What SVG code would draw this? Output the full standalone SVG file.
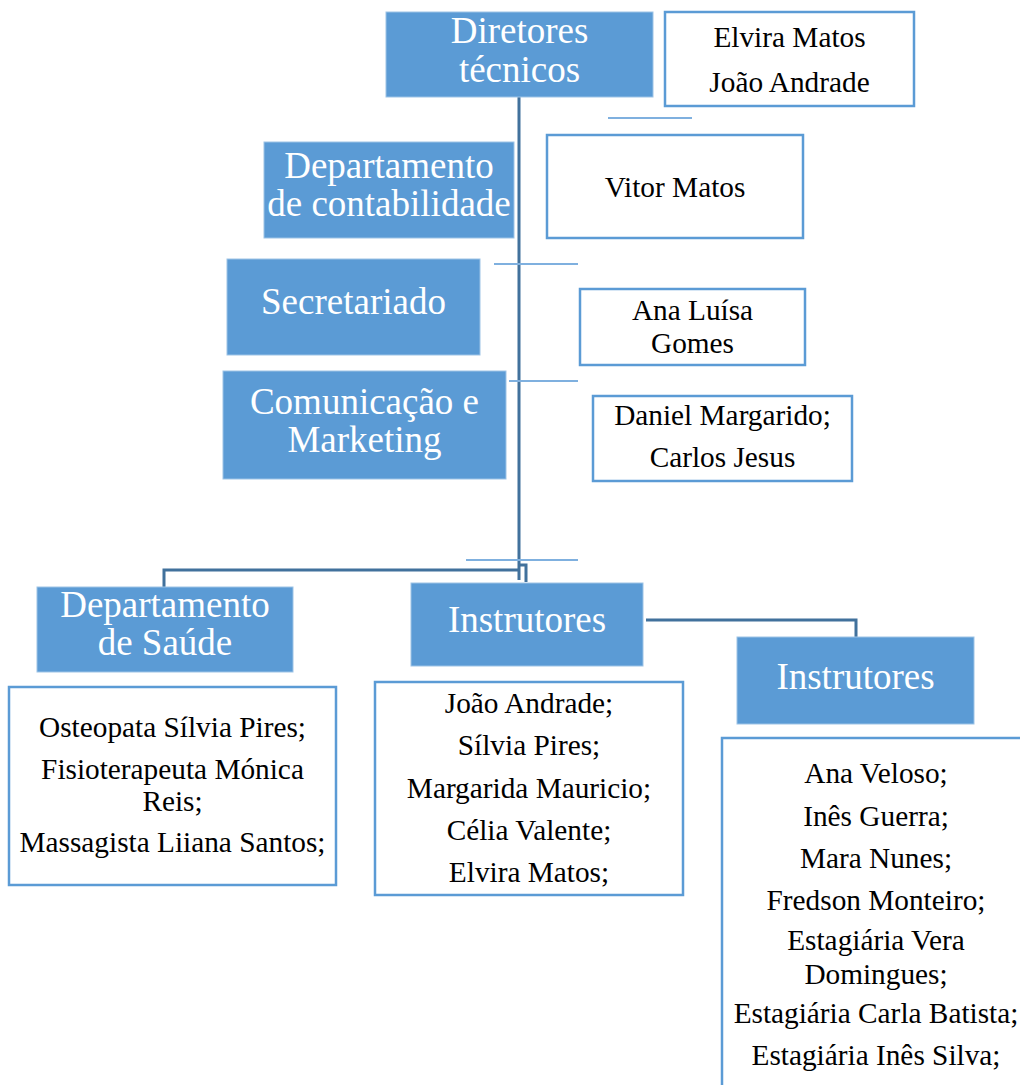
<svg xmlns="http://www.w3.org/2000/svg" width="1020" height="1085" viewBox="0 0 1020 1085">
<style>
.bb{fill:#5B9BD5;stroke:#9DC3E6;stroke-width:1}
.wb{fill:#FFFFFF;stroke:#5B9BD5;stroke-width:2.5}
.wt{fill:#FFFFFF;font-family:"Liberation Serif","Times New Roman",serif;font-size:37px;text-anchor:middle}
.kt{fill:#000000;font-family:"Liberation Serif","Times New Roman",serif;font-size:29.3px;text-anchor:middle}
.dk{fill:none;stroke:#41719C;stroke-width:3}
.lt{fill:none;stroke:#7FB0DF;stroke-width:2}
</style>
<rect width="1020" height="1085" fill="#FFFFFF"/>
<g id="connectors">
<line class="dk" x1="519" y1="97" x2="519" y2="580"/>
<line class="lt" x1="608" y1="118" x2="692" y2="118"/>
<line class="lt" x1="494" y1="264" x2="578" y2="264"/>
<line class="lt" x1="509" y1="381" x2="578" y2="381"/>
<line class="lt" x1="466" y1="560" x2="578" y2="560"/>
<polyline class="dk" points="519,570 164,570 164,587"/>
<polyline class="dk" points="519,565 526,565 526,582"/>
<polyline class="dk" points="646,620 856,620 856,637"/>
</g>
<g id="diretores">
<rect class="bb" x="386" y="12" width="267" height="85"/>
<text class="wt" x="519.5" y="43">Diretores</text>
<text class="wt" x="519.5" y="82">técnicos</text>
</g>
<g id="diretores-nomes">
<rect class="wb" x="665" y="12" width="249" height="94"/>
<text class="kt" x="789.5" y="47">Elvira Matos</text>
<text class="kt" x="789.5" y="92">João Andrade</text>
</g>
<g id="contabilidade">
<rect class="bb" x="264" y="142" width="250" height="96"/>
<text class="wt" x="389" y="178">Departamento</text>
<text class="wt" x="389" y="216">de contabilidade</text>
</g>
<g id="contabilidade-nomes">
<rect class="wb" x="547" y="135" width="256" height="103"/>
<text class="kt" x="675" y="197">Vitor Matos</text>
</g>
<g id="secretariado">
<rect class="bb" x="227" y="259" width="253" height="96"/>
<text class="wt" x="353.5" y="314">Secretariado</text>
</g>
<g id="secretariado-nomes">
<rect class="wb" x="580" y="289" width="225" height="76"/>
<text class="kt" x="692.5" y="320">Ana Luísa</text>
<text class="kt" x="692.5" y="353">Gomes</text>
</g>
<g id="comunicacao">
<rect class="bb" x="223" y="371" width="283" height="108"/>
<text class="wt" x="364.5" y="414">Comunicação e</text>
<text class="wt" x="364.5" y="452">Marketing</text>
</g>
<g id="comunicacao-nomes">
<rect class="wb" x="593" y="396" width="259" height="85"/>
<text class="kt" x="722.5" y="425">Daniel Margarido;</text>
<text class="kt" x="722.5" y="467">Carlos Jesus</text>
</g>
<g id="saude">
<rect class="bb" x="37" y="587" width="256" height="85"/>
<text class="wt" x="165" y="617">Departamento</text>
<text class="wt" x="165" y="655">de Saúde</text>
</g>
<g id="saude-nomes">
<rect class="wb" x="9" y="687" width="327" height="198"/>
<text class="kt" x="172.5" y="737">Osteopata Sílvia Pires;</text>
<text class="kt" x="172.5" y="779">Fisioterapeuta Mónica</text>
<text class="kt" x="172.5" y="811">Reis;</text>
<text class="kt" x="172.5" y="852">Massagista Liiana Santos;</text>
</g>
<g id="instrutores-1">
<rect class="bb" x="411" y="583" width="232" height="83"/>
<text class="wt" x="527" y="632">Instrutores</text>
</g>
<g id="instrutores-1-nomes">
<rect class="wb" x="375" y="682" width="308" height="213"/>
<text class="kt" x="529" y="713">João Andrade;</text>
<text class="kt" x="529" y="755">Sílvia Pires;</text>
<text class="kt" x="529" y="798">Margarida Mauricio;</text>
<text class="kt" x="529" y="840">Célia Valente;</text>
<text class="kt" x="529" y="882">Elvira Matos;</text>
</g>
<g id="instrutores-2">
<rect class="bb" x="737" y="637" width="237" height="87"/>
<text class="wt" x="855.5" y="689">Instrutores</text>
</g>
<g id="instrutores-2-nomes">
<rect class="wb" x="722" y="738" width="320" height="360"/>
<text class="kt" x="876" y="783">Ana Veloso;</text>
<text class="kt" x="876" y="826">Inês Guerra;</text>
<text class="kt" x="876" y="868">Mara Nunes;</text>
<text class="kt" x="876" y="910">Fredson Monteiro;</text>
<text class="kt" x="876" y="950">Estagiária Vera</text>
<text class="kt" x="876" y="984">Domingues;</text>
<text class="kt" x="876" y="1023">Estagiária Carla Batista;</text>
<text class="kt" x="876" y="1065">Estagiária Inês Silva;</text>
</g>
</svg>
